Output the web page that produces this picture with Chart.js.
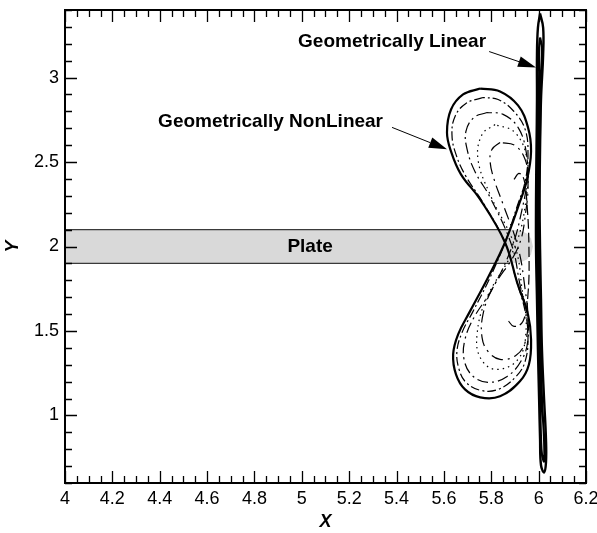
<!DOCTYPE html>
<html>
<head>
<meta charset="utf-8">
<script src="https://cdn.jsdelivr.net/npm/chart.js@4.4.1/dist/chart.umd.min.js"></script>
<style>
  html, body { margin: 0; padding: 0; background: #fff; }
  canvas { display: block; }
</style>
</head>
<body>
<canvas id="tipChart" width="597" height="533"></canvas>
<script>
// tick labels
const xTicks = [4, 4.2, 4.4, 4.6, 4.8, 5, 5.2, 5.4, 5.6, 5.8, 6, 6.2];
const yTicks = [1, 1.5, 2, 2.5, 3];

// the plate (grey strip) with its rounded tip
const plateX = [4, 5.879, 5.921, 5.951, 5.968, 5.976, 5.968, 5.951, 5.921, 5.879, 4, 4];
const plateY = [2.1, 2.1, 2.095, 2.077, 2.047, 2.0, 1.953, 1.923, 1.905, 1.9, 1.9, 2.1];
const plateEdgeX = [4, 5.879];
const plateTopY = [2.1, 2.1];
const plateBottomY = [1.9, 1.9];

// geometrically nonlinear: outer figure eight (solid)
const nlOuterX = [5.753, 5.681, 5.630, 5.613, 5.630, 5.672, 5.753, 5.858, 5.909, 5.955, 5.968, 5.959, 5.921, 5.837,
  5.753, 5.689, 5.651, 5.639, 5.660, 5.710, 5.782, 5.858, 5.917, 5.951, 5.968, 5.955, 5.913, 5.837, 5.753];
const nlOuterY = [2.935, 2.900, 2.811, 2.675, 2.563, 2.427, 2.279, 2.024, 1.788, 1.598, 1.450, 1.302, 1.202, 1.113,
  1.107, 1.154, 1.243, 1.362, 1.480, 1.616, 1.805, 2.024, 2.249, 2.397, 2.563, 2.705, 2.835, 2.918, 2.935];

// inner loops (dash-dot)
const nlAX = [5.765, 5.693, 5.647, 5.634, 5.651, 5.693, 5.765, 5.858, 5.905, 5.943, 5.955, 5.943, 5.905, 5.829,
  5.753, 5.693, 5.664, 5.655, 5.677, 5.723, 5.791, 5.858, 5.909, 5.943, 5.955, 5.943, 5.896, 5.829, 5.765];
const nlAY = [2.882, 2.847, 2.770, 2.663, 2.545, 2.415, 2.261, 2.024, 1.805, 1.616, 1.462, 1.320, 1.231, 1.154,
  1.149, 1.196, 1.273, 1.379, 1.492, 1.616, 1.805, 2.024, 2.237, 2.385, 2.545, 2.693, 2.799, 2.870, 2.882];

const nlBX = [5.782, 5.727, 5.693, 5.698, 5.731, 5.795, 5.888, 5.921, 5.951, 5.955, 5.930, 5.867, 5.786,
  5.719, 5.685, 5.689, 5.727, 5.803, 5.888, 5.930, 5.951, 5.947, 5.913, 5.850, 5.782];
const nlBY = [2.793, 2.764, 2.681, 2.575, 2.444, 2.291, 2.000, 1.776, 1.598, 1.450, 1.332, 1.231, 1.196,
  1.237, 1.332, 1.450, 1.580, 1.746, 2.000, 2.220, 2.397, 2.563, 2.705, 2.782, 2.793];

const nlCX = [5.837, 5.803, 5.795, 5.812, 5.850, 5.913, 5.943, 5.955, 5.943, 5.905, 5.837,
  5.786, 5.761, 5.765, 5.803, 5.913, 5.947, 5.955, 5.943, 5.900, 5.837];
const nlCY = [2.616, 2.575, 2.504, 2.397, 2.249, 1.995, 1.746, 1.569, 1.433, 1.356, 1.332,
  1.379, 1.462, 1.598, 1.746, 1.995, 2.220, 2.397, 2.515, 2.598, 2.616];

const nlDX = [5.896, 5.917, 5.938, 5.951, 5.959, 5.955, 5.934, 5.896, 5.867];
const nlDY = [2.397, 2.433, 2.397, 2.249, 1.995, 1.717, 1.557, 1.527, 1.569];

const nlEX = [5.816, 5.761, 5.744, 5.795, 5.900, 5.930, 5.947, 5.913, 5.816, 5.753, 5.740, 5.778, 5.900,
  5.947, 5.951, 5.900, 5.816];
const nlEY = [2.722, 2.663, 2.515, 2.308, 2.000, 1.746, 1.509, 1.332, 1.273, 1.344, 1.480, 1.687, 2.000,
  2.279, 2.515, 2.675, 2.722];

// geometrically linear: thin loops around x = 6
const linAX = [6.006, 6.019, 6.019, 6.010, 6.006, 6.004, 6.006, 6.010, 6.014, 6.023, 6.031, 6.031, 6.023,
  6.010, 6.006, 6.002, 5.997, 5.993, 5.989, 5.989, 5.991, 5.993, 5.993, 5.997, 6.006];
const linAY = [3.379, 3.296, 3.137, 2.870, 2.575, 2.279, 1.983, 1.687, 1.391, 1.095, 0.859, 0.722, 0.663,
  0.705, 0.859, 1.095, 1.391, 1.687, 1.983, 2.279, 2.575, 2.870, 3.137, 3.296, 3.379];
const linBX = [6.006, 6.014, 6.010, 6.006, 6.002, 6.002, 6.006, 6.010, 6.014, 6.023, 6.023,
  6.014, 6.010, 6.006, 6.002, 5.997, 5.995, 5.995, 5.997, 6.002, 6.002, 6.006];
const linBY = [3.237, 3.178, 2.989, 2.693, 2.279, 1.983, 1.687, 1.391, 1.095, 0.859, 0.728,
  0.770, 0.859, 1.095, 1.391, 1.687, 1.983, 2.279, 2.693, 2.989, 3.178, 3.237];

// annotations
const noteText = ['Geometrically Linear', 'Geometrically NonLinear', 'Plate'];
const noteX = [5.381, 4.868, 5.035];
const noteY = [3.214, 2.740, 2.0];
const arrowFromX = [5.791, 5.381];
const arrowFromY = [3.154, 2.705];
const arrowToX = [5.989, 5.613];
const arrowToY = [3.060, 2.575];

function curve(xs, ys, style) {
  return Object.assign({
    data: xs.map((v, i) => ({ x: v, y: ys[i] })),
    showLine: true,
    pointRadius: 0,
    borderColor: '#000',
    borderWidth: 1.2,
    fill: false,
    tension: 0.4,
    order: 1
  }, style);
}

const datasets = [
  curve(linAX, linAY, { borderWidth: 2.4 }),
  curve(linBX, linBY, { borderWidth: 2.2 }),
  curve(nlOuterX, nlOuterY, { borderWidth: 2.2 }),
  curve(nlAX, nlAY, { borderDash: [9, 3, 2, 3] }),
  curve(nlBX, nlBY, { borderDash: [11, 4, 2, 4] }),
  curve(nlCX, nlCY, { borderDash: [12, 5, 2, 5] }),
  curve(nlDX, nlDY, { borderDash: [10, 4] }),
  curve(nlEX, nlEY, { borderDash: [1.5, 4] }),
  curve(plateEdgeX, plateTopY, { borderColor: '#3a3a3a', borderWidth: 1.3, tension: 0, order: 4 }),
  curve(plateEdgeX, plateBottomY, { borderColor: '#3a3a3a', borderWidth: 1.3, tension: 0, order: 4 }),
  curve(plateX, plateY, { borderColor: 'rgba(0,0,0,0)', backgroundColor: '#d9d9d9', fill: 'shape', tension: 0, order: 5 })
];

// frame with inward ticks on all four sides
const frameTicks = {
  id: 'frameTicks',
  afterDatasetsDraw(chart) {
    const { ctx, chartArea: a, scales: { x, y } } = chart;
    ctx.save();
    ctx.strokeStyle = '#000';
    ctx.lineWidth = 1.3;
    ctx.beginPath();
    for (let i = 0; i <= 44; i++) {
      const v = 4 + i * 0.05;
      const len = i % 4 === 0 ? 12 : 7;
      const px = Math.round(x.getPixelForValue(v)) + 0.5;
      ctx.moveTo(px, a.bottom); ctx.lineTo(px, a.bottom - len);
      ctx.moveTo(px, a.top); ctx.lineTo(px, a.top + len);
    }
    for (let i = 6; i <= 34; i++) {
      const v = i / 10;
      const len = i % 5 === 0 ? 12 : 7;
      const py = Math.round(y.getPixelForValue(v)) + 0.5;
      ctx.moveTo(a.left, py); ctx.lineTo(a.left + len, py);
      ctx.moveTo(a.right, py); ctx.lineTo(a.right - len, py);
    }
    ctx.stroke();
    ctx.lineWidth = 2;
    ctx.strokeRect(a.left, a.top, a.right - a.left, a.bottom - a.top);
    ctx.restore();
  }
};

const notes = {
  id: 'notes',
  afterDatasetsDraw(chart) {
    const { ctx, scales: { x, y } } = chart;
    ctx.save();
    ctx.fillStyle = '#000';
    ctx.strokeStyle = '#000';
    ctx.font = 'bold 19px "Liberation Sans", Arial, sans-serif';
    ctx.textAlign = 'center';
    ctx.textBaseline = 'middle';
    noteText.forEach((t, i) => ctx.fillText(t, x.getPixelForValue(noteX[i]), y.getPixelForValue(noteY[i])));
    ctx.lineWidth = 1;
    arrowFromX.forEach((fx, i) => {
      const x0 = x.getPixelForValue(fx), y0 = y.getPixelForValue(arrowFromY[i]);
      const x1 = x.getPixelForValue(arrowToX[i]), y1 = y.getPixelForValue(arrowToY[i]);
      const ang = Math.atan2(y1 - y0, x1 - x0);
      const hl = 18, hw = 5.5;
      const bx = x1 - hl * Math.cos(ang), by = y1 - hl * Math.sin(ang);
      ctx.beginPath(); ctx.moveTo(x0, y0); ctx.lineTo(bx, by); ctx.stroke();
      ctx.beginPath();
      ctx.moveTo(x1, y1);
      ctx.lineTo(bx + hw * Math.sin(ang), by - hw * Math.cos(ang));
      ctx.lineTo(bx - hw * Math.sin(ang), by + hw * Math.cos(ang));
      ctx.closePath(); ctx.fill();
    });
    ctx.restore();
  }
};

const tickFont = { family: '"Liberation Sans", Arial, sans-serif', size: 18 };
const titleFont = { family: '"Liberation Sans", Arial, sans-serif', size: 18, weight: 'bold', style: 'italic' };
const fmt = v => String(+Number(v).toFixed(2));

new Chart(document.getElementById('tipChart'), {
  type: 'scatter',
  data: { datasets },
  options: {
    responsive: false,
    animation: false,
    events: [],
    layout: { padding: { top: 10, right: 11, left: 0, bottom: 0 } },
    plugins: { legend: { display: false }, tooltip: { enabled: false } },
    scales: {
      x: {
        type: 'linear', min: 4, max: 6.2,
        afterBuildTicks(s) { s.ticks = xTicks.map(v => ({ value: v })); },
        afterFit(s) { s.height = 50; s.paddingLeft = 0; s.paddingRight = 0; },
        grid: { display: false, drawTicks: false },
        border: { display: false },
        ticks: { padding: 5, color: '#000', font: tickFont, autoSkip: false, maxRotation: 0, callback: fmt },
        title: { display: true, text: 'X', color: '#000', font: titleFont, padding: { top: 0, bottom: 0 } }
      },
      y: {
        type: 'linear', min: 0.6, max: 3.4,
        afterBuildTicks(s) { s.ticks = yTicks.map(v => ({ value: v })); },
        afterFit(s) { s.width = 65; s.paddingTop = 0; s.paddingBottom = 0; },
        grid: { display: false, drawTicks: false },
        border: { display: false },
        ticks: { padding: 6, color: '#000', font: tickFont, autoSkip: false, callback: fmt },
        title: { display: true, text: 'Y', color: '#000', font: titleFont, padding: { top: 2, bottom: 0 } }
      }
    }
  },
  plugins: [frameTicks, notes]
});
</script>
</body>
</html>
